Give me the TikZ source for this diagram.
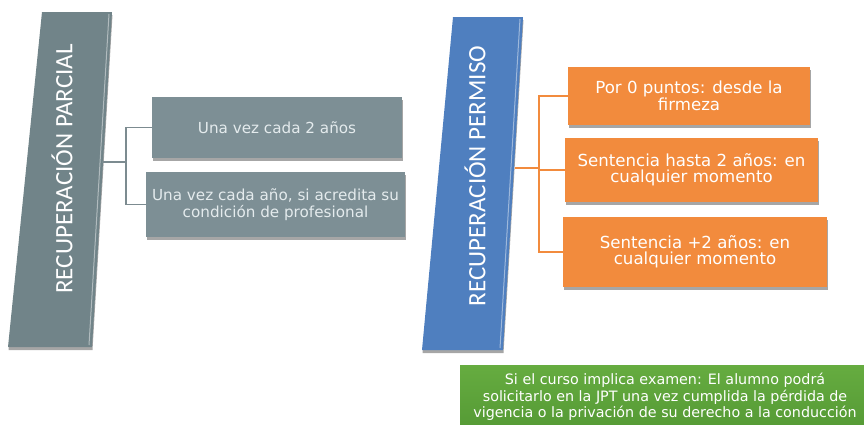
\documentclass[tikz,border=0pt]{standalone}
\usepackage{fontspec}
\setmainfont{DejaVu Sans}
\newfontfamily\titlefont{Carlito}
\usetikzlibrary{shadows}
\definecolor{graybarc}{HTML}{718489}
\definecolor{grayboxc}{HTML}{7D8F95}
\definecolor{graytxt}{HTML}{E4EBED}
\definecolor{graylinec}{HTML}{7C8B90}
\definecolor{bluebarc}{HTML}{4F7FBF}
\definecolor{orangec}{HTML}{F28B3D}
\definecolor{greentop}{HTML}{66AC40}
\definecolor{greenbot}{HTML}{559A35}
\tikzset{
  boxshadow/.style={drop shadow={shadow xshift=0.5pt,shadow yshift=-3pt,opacity=0.35,fill=black}},
  barnode/.style={minimum width=80pt,minimum height=333pt,inner sep=0pt},
  bartitle/.style={rotate=90,text=white,font=\titlefont\fontsize{25}{25}\selectfont},
  graybox/.style={rectangle,fill=grayboxc,boxshadow,text=graytxt,align=center,
    font=\fontsize{15.2}{16.5}\selectfont,inner sep=0pt},
  orangebox/.style={rectangle,fill=orangec,boxshadow,text=white,align=center,
    font=\fontsize{16.6}{16}\selectfont,inner sep=0pt},
  greenbox/.style={rectangle,top color=greentop,bottom color=greenbot,text=white,align=center,
    font=\fontsize{14.3}{16.3}\selectfont,inner sep=0pt},
  grayline/.style={draw=graylinec,line width=1.6pt},
  orangeline/.style={draw=orangec,line width=1.8pt},
}
\begin{document}
\begin{tikzpicture}[x=1pt,y=-1pt]
\useasboundingbox (0,0) rectangle (864,424);
% left bar
\fill[graybarc,boxshadow] (42,12) -- (112,12) -- (92,347) -- (8,347) -- cycle;
\draw[white,opacity=0.45,line width=1pt] (109,14) -- (89,345);
\node[barnode] (parcial) at (62,180) {};
\node[bartitle] at ([yshift=11pt]parcial.center) {RECUPERACIÓN PARCIAL};
% gray boxes
\node[graybox,minimum width=250pt,minimum height=61pt] (g1) at (277,127.5) {Una vez cada 2 años};
\node[graybox,minimum width=259pt,minimum height=65pt] (g2) at (275.5,204.5) {Una vez cada año, si acredita su\\condición de profesional};
\coordinate (pj) at ([yshift=18pt]parcial.east);
\draw[grayline] (pj) -- ++(24,0) coordinate (pk);
\draw[grayline] (pk) |- (g1.west);
\draw[grayline] (pk) |- (g2.west);
% right bar
\fill[bluebarc,boxshadow] (453,17) -- (523,17) -- (503,350) -- (422,350) -- cycle;
\draw[white,opacity=0.45,line width=1pt] (520,19) -- (500,348);
\node[barnode] (permiso) at (475,183) {};
\node[bartitle] at ([yshift=7pt]permiso.center) {RECUPERACIÓN PERMISO};
% orange boxes
\node[orangebox,minimum width=242pt,minimum height=58pt] (o1) at (689,96) {Por 0 puntos: desde la\\firmeza};
\node[orangebox,minimum width=253pt,minimum height=64pt] (o2) at (691.5,170) {Sentencia hasta 2 años: en\\cualquier momento};
\node[orangebox,minimum width=264pt,minimum height=70pt] (o3) at (695,252) {Sentencia +2 años: en\\cualquier momento};
\coordinate (oj) at ([yshift=15pt]permiso.east);
\draw[orangeline] (oj) -- ++(24,0) coordinate (ok);
\draw[orangeline] (ok) |- (o1.west);
\draw[orangeline] (ok) |- (o2.west);
\draw[orangeline] (ok) |- (o3.west);
% green box
\node[greenbox,minimum width=410pt,minimum height=64pt] (green) at (665,397) {Si el curso implica examen: El alumno podrá\\solicitarlo en la JPT una vez cumplida la pérdida de\\vigencia o la privación de su derecho a la conducción};
\end{tikzpicture}
\end{document}
